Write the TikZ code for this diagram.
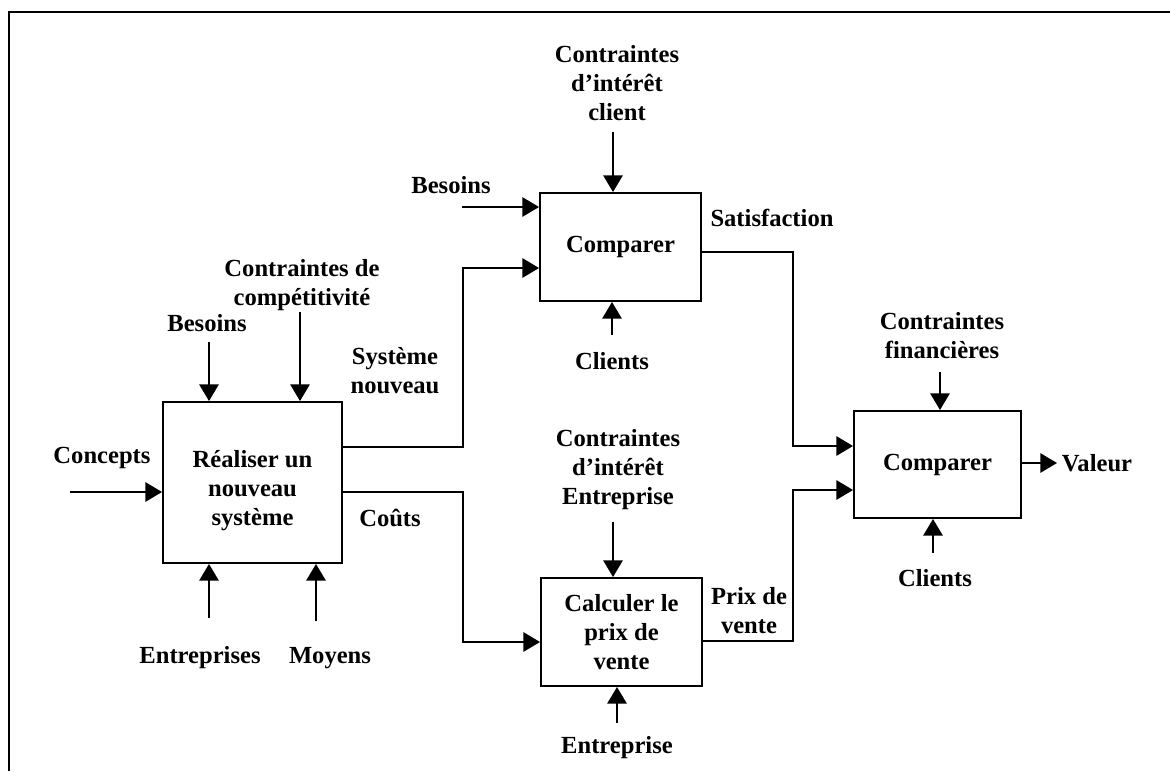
\documentclass[tikz,border=0pt]{standalone}
\usepackage{fontspec}
\setmainfont{Liberation Serif}
\usetikzlibrary{arrows.meta}
\tikzset{
  box/.style={draw, line width=1.1pt, rectangle, align=center, inner sep=0pt,
    font=\bfseries\fontsize{14}{16.5}\selectfont},
  lbl/.style={align=center, inner sep=0pt, font=\bfseries\fontsize{14}{16.5}\selectfont},
  arr/.style={line width=1.1pt, -{Triangle[length=9.5pt,width=11pt]}},
  conn/.style={line width=1.1pt},
}
\begin{document}
\begin{tikzpicture}[x=0.02cm, y=-0.02cm]
\useasboundingbox (0,0) rectangle (1170,771);
% frame
\coordinate (f1) at (9,771);
\coordinate (f2) at (9,12);
\coordinate (f3) at (1170,12);
\draw[conn] (f1) -- (f2) -- (f3);

% boxes
\node[box, minimum width=3.58cm, minimum height=3.22cm] (A) at (252.5,482.5)
  {\raisebox{-0.17cm}[\height][\depth]{\begin{tabular}{@{}c@{}}R\'ealiser un\\nouveau\\syst\`eme\end{tabular}}};
\node[box, minimum width=3.22cm, minimum height=2.16cm] (B) at (620.5,247) {Comparer};
\node[box, minimum width=3.22cm, minimum height=2.16cm] (C) at (621.5,632)
  {\raisebox{-0.06cm}[\height][\depth]{\begin{tabular}{@{}c@{}}Calculer le\\prix de\\vente\end{tabular}}};
\node[box, minimum width=3.34cm, minimum height=2.14cm] (D) at (937.5,464.5) {Comparer};

% labels
\node[lbl] (lConcepts) at (102,458) {Concepts};
\node[lbl] (lBesA) at (207,323) {Besoins};
\node[lbl] (lCC) at (302,285) {Contraintes de\\comp\'etitivit\'e};
\node[lbl] (lEnts) at (200,658) {Entreprises};
\node[lbl] (lMoy) at (330,658) {Moyens};
\node[lbl] (lSys) at (395,371) {Syst\`eme\\nouveau};
\node[lbl] (lCout) at (390,518) {Co\^uts};
\node[lbl] (lBesB) at (451,185) {Besoins};
\node[lbl] (lCIC) at (617,83) {Contraintes\\d'int\'er\^et\\client};
\node[lbl] (lCliB) at (612,361) {Clients};
\node[lbl] (lSat) at (772,218) {Satisfaction};
\node[lbl] (lCIE) at (618,470) {Contraintes\\d'int\'er\^et\\Entreprise};
\node[lbl] (lPrix) at (749,611) {Prix de\\vente};
\node[lbl] (lEnt) at (617,748) {Entreprise};
\node[lbl] (lCF) at (942,336) {Contraintes\\financi\`eres};
\node[lbl] (lCliD) at (935,578) {Clients};
\node[lbl] (lVal) at (1097,463) {Valeur};

% free ends and bends
\coordinate (cin) at (70,492);
\coordinate (bA) at (209,342);
\coordinate (ccA) at (300,312);
\coordinate (eA) at (209,618);
\coordinate (mA) at (316,621);
\coordinate (s1) at (463,447);
\coordinate (s2) at (463,268);
\coordinate (c1) at (463,492);
\coordinate (c2) at (463,642);
\coordinate (bB) at (462,207);
\coordinate (cicB) at (613,132);
\coordinate (clB) at (612,335);
\coordinate (sa1) at (793,252);
\coordinate (sa2) at (793,446);
\coordinate (p1) at (793,641);
\coordinate (p2) at (793,490);
\coordinate (cieC) at (613,522);
\coordinate (eC) at (617,723);
\coordinate (cfD) at (940,372);
\coordinate (clD) at (933,553);
\coordinate (v) at (1057,463);

% connectors
\draw[arr] (cin) -- (A.west |- cin);
\draw[arr] (bA) -- (bA |- A.north);
\draw[arr] (ccA) -- (ccA |- A.north);
\draw[arr] (eA) -- (eA |- A.south);
\draw[arr] (mA) -- (mA |- A.south);
\draw[arr] (A.east |- s1) -- (s1) -- (s2) -- (B.west |- s2);
\draw[arr] (A.east |- c1) -- (c1) -- (c2) -- (C.west |- c2);
\draw[arr] (bB) -- (B.west |- bB);
\draw[arr] (cicB) -- (cicB |- B.north);
\draw[arr] (clB) -- (clB |- B.south);
\draw[arr] (B.east |- sa1) -- (sa1) -- (sa2) -- (D.west |- sa2);
\draw[arr] (C.east |- p1) -- (p1) -- (p2) -- (D.west |- p2);
\draw[arr] (cieC) -- (cieC |- C.north);
\draw[arr] (eC) -- (eC |- C.south);
\draw[arr] (cfD) -- (cfD |- D.north);
\draw[arr] (clD) -- (clD |- D.south);
\draw[arr] (D.east |- v) -- (v);
\end{tikzpicture}
\end{document}
